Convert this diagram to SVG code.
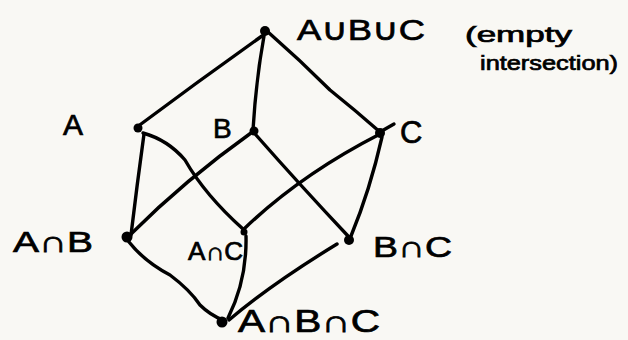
<svg xmlns="http://www.w3.org/2000/svg" width="628" height="340" viewBox="0 0 628 340">
<style>
.e{fill:none;stroke:#000;stroke-width:3.4;stroke-linecap:round;stroke-linejoin:round}
.d{fill:#000}
.t{font-family:"Liberation Sans","DejaVu Sans",sans-serif;fill:#000;stroke:#000;stroke-width:0.7}
</style>
<rect width="628" height="340" fill="#f9f8f4"/>
<g id="connectors">
<path class="e" d="M262 36 Q200 80 137 127"/>
<path class="e" d="M264 36 Q256 80 253 130"/>
<path class="e" d="M268 32 Q300 60 330 90 Q355 110 380 132"/>
<path class="e" d="M144 134 Q137 185 131 235"/>
<path class="e" d="M143 133 Q168 140 185 160 Q205 195 243 229"/>
<path class="e" d="M251 133 Q185 180 131 234"/>
<path class="e" d="M256 135 Q300 185 348 236"/>
<path class="e" d="M380 134 Q300 175 244 229"/>
<path class="e" d="M382 137 Q370 190 351 236"/>
<path class="e" d="M380 132 L394 124"/>
<path class="e" d="M129 242 Q145 262 170 275 Q190 290 200 305 Q210 315 223 320"/>
<path class="e" d="M246 236 Q247 280 228 318"/>
<path class="e" d="M337 244 Q270 285 229 320"/>
</g>
<g id="n-abc-union"><circle class="d" cx="265" cy="31" r="5"/><text class="t" x="297" y="40" font-size="30" textLength="128" lengthAdjust="spacingAndGlyphs">A∪B∪C</text></g>
<g id="note"><text class="t" x="465" y="42" font-size="22" textLength="107" lengthAdjust="spacingAndGlyphs">(empty</text><text class="t" x="480" y="70" font-size="20" textLength="138" lengthAdjust="spacingAndGlyphs">intersection)</text></g>
<g id="n-a"><circle class="d" cx="138" cy="128" r="4.5"/><text class="t" x="63" y="135" font-size="30">A</text></g>
<g id="n-b"><circle class="d" cx="254" cy="131" r="4.5"/><text class="t" x="213" y="138" font-size="28">B</text></g>
<g id="n-c"><circle class="d" cx="380" cy="133" r="5"/><text class="t" x="400" y="143" font-size="31">C</text></g>
<g id="n-ab"><circle class="d" cx="127" cy="237" r="5.5"/><text class="t" x="13" y="252" font-size="30" textLength="80" lengthAdjust="spacingAndGlyphs">A∩B</text></g>
<g id="n-ac"><circle class="d" cx="244" cy="232" r="3.5"/><text class="t" x="188" y="260" font-size="25" textLength="55" lengthAdjust="spacingAndGlyphs">A∩C</text></g>
<g id="n-bc"><circle class="d" cx="349" cy="240" r="5"/><text class="t" x="373" y="257" font-size="30" textLength="79" lengthAdjust="spacingAndGlyphs">B∩C</text></g>
<g id="n-abc"><circle class="d" cx="222" cy="322" r="5.5"/><text class="t" x="238" y="332" font-size="31" textLength="142" lengthAdjust="spacingAndGlyphs">A∩B∩C</text></g>
</svg>
